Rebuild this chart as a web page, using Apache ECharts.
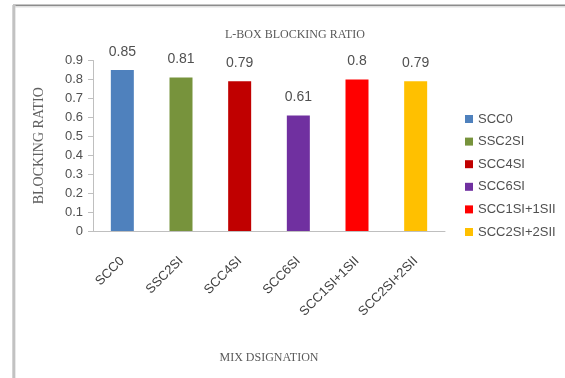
<!DOCTYPE html>
<html>
<head>
<meta charset="utf-8">
<script src="https://cdn.jsdelivr.net/npm/echarts@6/dist/echarts.min.js"></script>
<style>
  html, body { margin: 0; padding: 0; background: #ffffff; }
  #chart { width: 565px; height: 378px; }
</style>
</head>
<body>
<div id="chart"></div>
<script>
// Mix designations and their L-box blocking ratios
const mixes = ['SCC0', 'SSC2SI', 'SCC4SI', 'SCC6SI', 'SCC1SI+1SII', 'SCC2SI+2SII'];
const blockingRatio = [0.85, 0.81, 0.79, 0.61, 0.8, 0.79];
const barColors = ['#4F81BD', '#77933C', '#C00000', '#7030A0', '#FF0000', '#FFC000'];
const yTicks = [0, 0.1, 0.2, 0.3, 0.4, 0.5, 0.6, 0.7, 0.8, 0.9];

const sans = 'Liberation Sans';
const serif = 'Liberation Serif';

// One series per mix so each gets its own legend entry; stacking keeps bars centred
const series = mixes.map((name, i) => ({
  name: name,
  type: 'bar',
  stack: 'mix',
  barWidth: 23,
  itemStyle: { color: barColors[i] },
  label: {
    show: true,
    position: 'top',
    distance: 11,
    color: '#505050',
    fontFamily: sans,
    fontSize: 14
  },
  data: mixes.map((m, j) => (j === i ? blockingRatio[i] : null))
}));

const chart = echarts.init(document.getElementById('chart'), null, { renderer: 'canvas' });
chart.setOption({
  backgroundColor: '#ffffff',
  animation: false,
  title: {
    text: 'L-BOX BLOCKING RATIO',
    left: 290,
    top: 24,
    textAlign: 'center',
    textStyle: { fontFamily: serif, fontSize: 12, fontWeight: 'normal', color: '#595959' }
  },
  legend: {
    orient: 'vertical',
    left: 460,
    top: 107.5,
    itemWidth: 8,
    itemHeight: 8,
    itemGap: 9.6,
    icon: 'rect',
    data: mixes,
    textStyle: { fontFamily: sans, fontSize: 13, lineHeight: 13, color: '#505050' }
  },
  grid: { left: 93, right: 120, top: 60.5, bottom: 147 },
  xAxis: {
    type: 'category',
    data: mixes,
    name: 'MIX DSIGNATION',
    nameLocation: 'middle',
    nameGap: 121,
    nameTextStyle: { fontFamily: serif, fontSize: 12, color: '#595959' },
    axisLine: { lineStyle: { color: '#bfbfbf', width: 1 } },
    axisTick: { show: false },
    axisLabel: {
      rotate: 45,
      margin: 28,
      fontFamily: sans,
      fontSize: 13,
      color: '#404040',
      interval: 0
    }
  },
  yAxis: {
    type: 'value',
    min: yTicks[0],
    max: yTicks[yTicks.length - 1],
    interval: 0.1,
    name: 'BLOCKING RATIO',
    nameLocation: 'middle',
    nameGap: 47,
    nameTextStyle: { fontFamily: serif, fontSize: 14, color: '#606060' },
    axisLine: { show: true, lineStyle: { color: '#bfbfbf', width: 1 } },
    axisTick: { show: true, length: 5, lineStyle: { color: '#bfbfbf' } },
    splitLine: { show: false },
    axisLabel: {
      margin: 10,
      fontFamily: sans,
      fontSize: 13,
      color: '#505050',
      formatter: v => String(Math.round(v * 10) / 10)
    }
  },
  graphic: [
    // frame: top edge and left edge
    { type: 'rect', shape: { x: 13, y: 6, width: 552, height: 1.5 }, style: { fill: '#e0e0e0' }, silent: true },
    { type: 'rect', shape: { x: 13, y: 4.5, width: 552, height: 1.5 }, style: { fill: '#8c8c8c' }, silent: true },
    { type: 'rect', shape: { x: 12, y: 5, width: 3.5, height: 373 }, style: { fill: '#d4d4d4' }, silent: true },
    { type: 'rect', shape: { x: 13.5, y: 5, width: 1, height: 373 }, style: { fill: '#b0b0b0' }, silent: true }
  ],
  series: series
});
</script>
</body>
</html>
